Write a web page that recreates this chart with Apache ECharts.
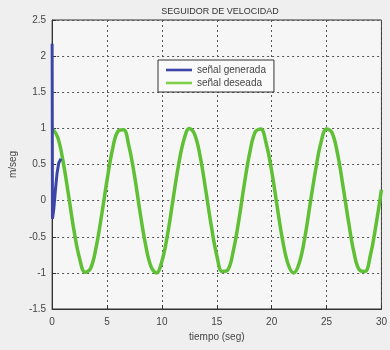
<!DOCTYPE html>
<html><head><meta charset="utf-8">
<script src="https://cdn.jsdelivr.net/npm/echarts@6/dist/echarts.min.js"></script>
<style>html,body{margin:0;padding:0;background:#efefef;}#c{width:390px;height:350px;}</style>
</head><body><div id="c"></div>
<script>
const titleText = 'SEGUIDOR DE VELOCIDAD';
const xName = 'tiempo (seg)';
const yName = 'm/seg';
const seriesNames = ['señal generada', 'señal deseada'];
const desiredT = [0,0.5,1,1.5,2,2.5,3,3.5,4,4.5,5,5.5,6,6.5,7,7.5,8,8.5,9,9.5,10,10.5,11,11.5,12,12.5,13,13.5,14,14.5,15,15.5,16,16.5,17,17.5,18,18.5,19,19.5,20,20.5,21,21.5,22,22.5,23,23.5,24,24.5,25,25.5,26,26.5,27,27.5,28,28.5,29,29.5,30];
const desiredV = [1,0.88,0.54,0.07,-0.42,-0.80,-0.99,-0.94,-0.65,-0.21,0.28,0.71,0.96,0.98,0.75,0.35,-0.15,-0.60,-0.91,-1.00,-0.84,-0.48,0.00,0.48,0.84,1.00,0.91,0.60,0.14,-0.35,-0.76,-0.98,-0.96,-0.70,-0.28,0.22,0.66,0.95,0.99,0.79,0.41,-0.08,-0.55,-0.88,-1.00,-0.87,-0.53,-0.05,0.42,0.81,0.99,0.94,0.65,0.20,-0.29,-0.72,-0.96,-0.98,-0.75,-0.34,0.15];
const genT = [0, 0.03, 0.15, 0.3, 0.45, 0.6, 0.8];
const genV = [2.17, -0.25, -0.12, 0.15, 0.38, 0.52, 0.58];

const chart = echarts.init(document.getElementById('c'), null, {renderer:'canvas'});
const font = 'Liberation Sans, Arial, sans-serif';
const gridLine = {show:true, lineStyle:{color:'#555', type:[2,3], width:1}};
const lineIcon = 'path://M0,0 L30,0 L30,3 L0,3 Z';
chart.setOption({
  backgroundColor:'#efefef',
  animation:false,
  title:{text:titleText, left:215, textAlign:'center', top:2,
    textStyle:{fontSize:9, fontWeight:'normal', color:'#333', fontFamily:'Liberation Sans Narrow, '+font}},
  grid:{left:52, right:6, top:20, bottom:41, show:true, backgroundColor:'#f6f6f6', borderColor:'#333', borderWidth:1},
  legend:{data:[{name:seriesNames[0], icon:lineIcon},{name:seriesNames[1], icon:lineIcon}],
    orient:'vertical', left:158, top:60, backgroundColor:'#fafafa',
    borderColor:'#333', borderWidth:1, padding:[5,8,4,8], itemGap:3, itemWidth:26, itemHeight:3,
    textStyle:{fontSize:10, color:'#444', fontFamily:font}},
  xAxis:{type:'value', min:0, max:30, interval:5, name:xName, nameLocation:'middle', nameGap:21,
    nameTextStyle:{fontSize:10, color:'#444', fontFamily:font},
    axisLine:{show:true, onZero:false, lineStyle:{color:'#333'}}, axisTick:{show:true, inside:true, length:4, lineStyle:{color:'#333'}},
    axisLabel:{fontSize:10, color:'#444', fontFamily:font, margin:8},
    splitLine:gridLine},
  yAxis:{type:'value', min:-1.5, max:2.5, interval:0.5, name:yName, nameLocation:'middle', nameGap:32, nameRotate:90,
    nameTextStyle:{fontSize:10, color:'#444', fontFamily:font},
    axisLine:{show:true, onZero:false, lineStyle:{color:'#333'}}, axisTick:{show:true, inside:true, length:4, lineStyle:{color:'#333'}},
    axisLabel:{fontSize:10, color:'#444', fontFamily:font, margin:6},
    splitLine:gridLine},
  series:[
    {name:seriesNames[0], type:'line', symbol:'none', z:3,
      data:genT.map((t,i)=>[t,genV[i]]), lineStyle:{color:'#3c44a8', width:3}, itemStyle:{color:'#3c44a8'}},
    {name:seriesNames[1], type:'line', symbol:'none', smooth:0.4, z:2,
      data:desiredT.map((t,i)=>[t,desiredV[i]]), lineStyle:{color:'#5fbf35', width:3.5}, itemStyle:{color:'#7fd14a'}}
  ]
});
</script></body></html>
